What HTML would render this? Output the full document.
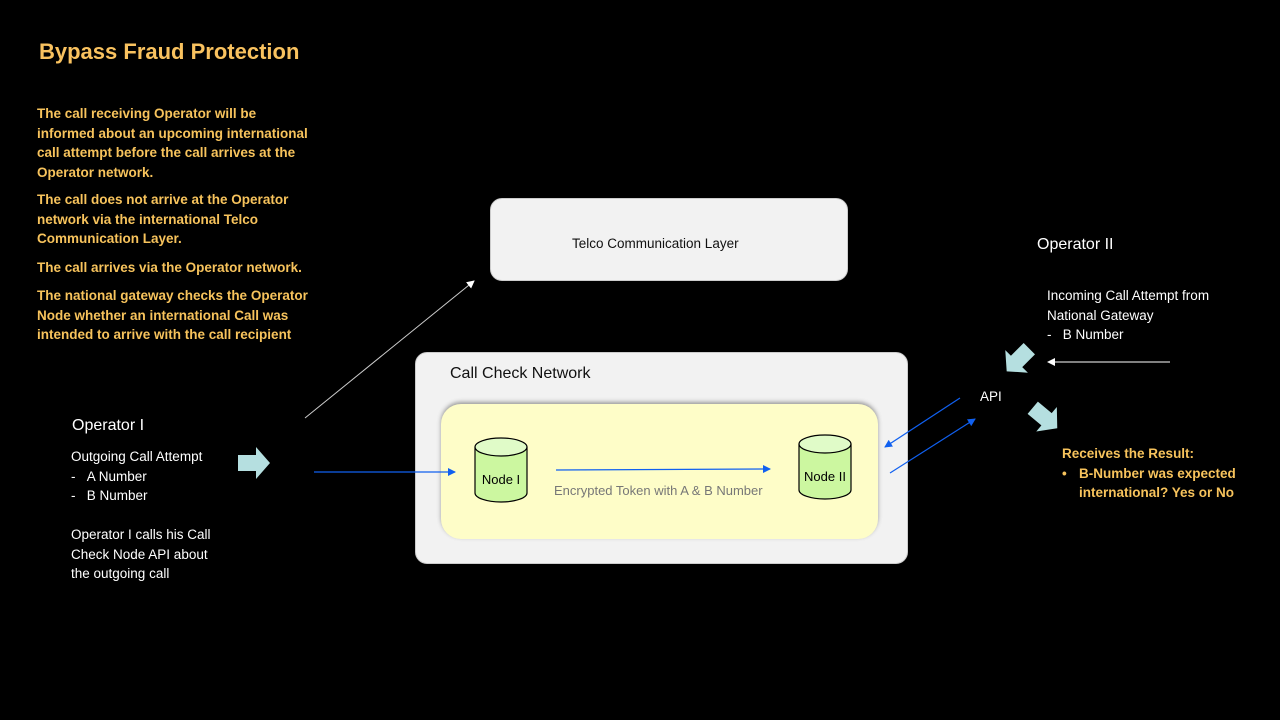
<!DOCTYPE html>
<html><head><meta charset="utf-8"><style>
body{margin:0;width:1280px;height:720px;background:#000;position:relative;overflow:hidden;font-family:"Liberation Sans",sans-serif}
.t{position:absolute;font-size:13.5px;line-height:19.5px;white-space:nowrap}
.y{color:#f7c35c;font-weight:bold}
.w{color:#fff}
</style></head><body>
<div class="t y" style="left:39px;top:37px;font-size:22px;line-height:30px;color:#f9c25f">Bypass Fraud Protection</div>
<div class="t y" style="left:37px;top:104px">The call receiving Operator will be<br>informed about an upcoming international<br>call attempt before the call arrives at the<br>Operator network.</div>
<div class="t y" style="left:37px;top:190px">The call does not arrive at the Operator<br>network via the international Telco<br>Communication Layer.</div>
<div class="t y" style="left:37px;top:258px">The call arrives via the Operator network.</div>
<div class="t y" style="left:37px;top:286px">The national gateway checks the Operator<br>Node whether an international Call was<br>intended to arrive with the call recipient</div>

<div style="position:absolute;left:490px;top:198px;width:358px;height:83px;background:#f2f2f2;border-radius:12px;border:1px solid #ccc;box-sizing:border-box"></div>
<div class="t" style="left:572px;top:234px;color:#111;font-size:13.5px">Telco Communication Layer</div>

<div style="position:absolute;left:415px;top:352px;width:493px;height:212px;background:#f2f2f2;border-radius:12px;border:1px solid #ccc;box-sizing:border-box"></div>
<div class="t" style="left:450px;top:364px;color:#111;font-size:16px">Call Check Network</div>
<div style="position:absolute;left:441px;top:404px;width:437px;height:135px;background:#fefdc8;border-radius:20px;box-shadow:0 -2px 4px #999"></div>

<div class="t w" style="left:72px;top:415px;font-size:16px;line-height:22px">Operator I</div>
<div class="t w" style="left:71px;top:447px">Outgoing Call Attempt<br>-&nbsp;&nbsp;&nbsp;A Number<br>-&nbsp;&nbsp;&nbsp;B Number</div>
<div class="t w" style="left:71px;top:525px">Operator I calls his Call<br>Check Node API about<br>the outgoing call</div>

<div class="t w" style="left:1037px;top:234px;font-size:16px;line-height:22px">Operator II</div>
<div class="t w" style="left:1047px;top:286px">Incoming Call Attempt from<br>National Gateway<br>-&nbsp;&nbsp;&nbsp;B Number</div>
<div class="t w" style="left:980px;top:387px">API</div>
<div class="t y" style="left:1062px;top:444px">Receives the Result:<br><span style="display:inline-block;width:17px">•</span>B-Number was expected<br><span style="display:inline-block;width:17px"></span>international? Yes or No</div>

<div class="t" style="left:554px;top:481px;color:#777;font-size:13px">Encrypted Token with A &amp; B Number</div>

<svg width="1280" height="720" style="position:absolute;left:0;top:0">
<defs>
<marker id="b" markerWidth="8" markerHeight="8" refX="7" refY="4" orient="auto" markerUnits="userSpaceOnUse"><path d="M0,0 L8,4 L0,8 z" fill="#1060f0"/></marker>
<marker id="wt" markerWidth="8" markerHeight="8" refX="7" refY="4" orient="auto" markerUnits="userSpaceOnUse"><path d="M0,0 L8,4 L0,8 z" fill="#fff"/></marker>
</defs>
<line x1="305" y1="418" x2="474" y2="281" stroke="#ccc" stroke-width="1" marker-end="url(#wt)"/>
<line x1="1170" y1="362" x2="1048" y2="362" stroke="#fff" stroke-width="1" marker-end="url(#wt)"/>
<line x1="314" y1="472" x2="455" y2="472" stroke="#1060f0" stroke-width="1.2" marker-end="url(#b)"/>
<line x1="556" y1="470" x2="770" y2="469" stroke="#1060f0" stroke-width="1.2" marker-end="url(#b)"/>
<line x1="960" y1="398" x2="885" y2="447" stroke="#1060f0" stroke-width="1.2" marker-end="url(#b)"/>
<line x1="890" y1="473" x2="975" y2="419" stroke="#1060f0" stroke-width="1.2" marker-end="url(#b)"/>
<!-- fat arrows -->
<polygon points="238,455 256,455 256,447 270,463 256,479 256,471 238,471" fill="#b5dfe0"/>
<g transform="translate(1018,360) rotate(135)"><polygon points="-16,-8 2,-8 2,-16 16,0 2,16 2,8 -16,8" fill="#b5dfe0"/></g>
<g transform="translate(1045,418) rotate(40)"><polygon points="-16,-8 2,-8 2,-16 16,0 2,16 2,8 -16,8" fill="#b5dfe0"/></g>
<!-- cylinders -->
<g stroke="#000" stroke-width="1.2">
<path d="M475,447 V493 A26,9 0 0 0 527,493 V447" fill="#ccf7a0"/>
<ellipse cx="501" cy="447" rx="26" ry="9" fill="#e0fbc8"/>
<path d="M799,444 V490 A26,9 0 0 0 851,490 V444" fill="#ccf7a0"/>
<ellipse cx="825" cy="444" rx="26" ry="9" fill="#e0fbc8"/>
</g>
<text x="501" y="484" font-family="Liberation Sans" font-size="13" text-anchor="middle">Node I</text>
<text x="825" y="481" font-family="Liberation Sans" font-size="13" text-anchor="middle">Node II</text>
</svg>
</body></html>
